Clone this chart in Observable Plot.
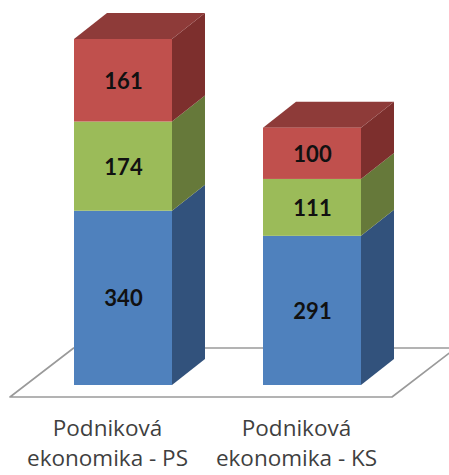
<!DOCTYPE html>
<html>
<head>
<meta charset="utf-8">
<script src="https://cdn.jsdelivr.net/npm/d3@7"></script>
<script src="https://cdn.jsdelivr.net/npm/@observablehq/plot@0.6"></script>
<style>
  html, body { margin: 0; padding: 0; background: #fff; overflow: hidden; }
  svg { overflow: hidden; }
</style>
</head>
<body>
<div id="chart"></div>
<script>
// ---- data ----
const categories = ["Podniková ekonomika - PS", "Podniková ekonomika - KS"];
const seriesNames = ["Série 1", "Série 2", "Série 3"];
const series1 = [340, 291];
const series2 = [174, 111];
const series3 = [161, 100];

// ---- styles ----
const frontColors = ["#4F81BD", "#9BBB59", "#C0504D"];
const sideColors  = ["#32527C", "#66793A", "#7D2F2D"];
const topColors   = ["#3E6796", "#7C9647", "#8E3B39"];
const DX = 33, DY = 26;

const allSeries = [series1, series2, series3];
const rows = [];
categories.forEach((c, ci) => {
  seriesNames.forEach((s, si) => {
    rows.push({category: c, series: s, si, value: allSeries[si][ci]});
  });
});

const stackOpts = {x: "category", y: "value", z: "series", order: null};

// floor (platform) drawn from scales
const floorMark = Plot.barY(rows, Plot.stackY({
  ...stackOpts,
  render: (index, scales, values, dimensions) => {
    const y0 = scales.y(0);
    const [r0, r1] = scales.x.range();
    const front = y0 + 12, back = y0 - 37;
    const slant = 1.3;
    const x0 = r0 - 63, x1 = r1 + 31;
    const off = (front - back) * slant;
    const pts = [[x0, front], [x1, front], [x1 + off, back], [x0 + off, back]];
    const g = d3.create("svg:g");
    g.append("path")
      .attr("d", "M" + pts.map(p => p.join(",")).join("L") + "Z")
      .attr("fill", "#fff")
      .attr("stroke", "#9a9a9a")
      .attr("stroke-width", 1.6)
      .attr("stroke-linejoin", "round");
    return g.node();
  }
}));

// side and top faces
const depthMark = Plot.barY(rows, Plot.stackY({
  ...stackOpts,
  render: (index, scales, values) => {
    const bw = scales.x.bandwidth();
    const g = d3.create("svg:g");
    const topByCat = new Map();
    for (const i of index) {
      const d = rows[i];
      const xl = values.x[i];
      const xr = xl + bw;
      const yt = Math.min(values.y1[i], values.y2[i]);
      const yb = Math.max(values.y1[i], values.y2[i]);
      g.append("path")
        .attr("d", `M${xr},${yb}L${xr},${yt}L${xr + DX},${yt - DY}L${xr + DX},${yb - DY}Z`)
        .attr("fill", sideColors[d.si]);
      const prev = topByCat.get(d.category);
      if (!prev || yt < prev.yt) topByCat.set(d.category, {xl, xr, yt, si: d.si});
    }
    for (const t of topByCat.values()) {
      g.append("path")
        .attr("d", `M${t.xl},${t.yt}L${t.xl + DX},${t.yt - DY}L${t.xr + DX},${t.yt - DY}L${t.xr},${t.yt}Z`)
        .attr("fill", topColors[t.si]);
    }
    return g.node();
  }
}));

const chart = Plot.plot({
  width: 449,
  height: 475,
  marginTop: 39,
  marginBottom: 90,
  marginLeft: 73,
  marginRight: 88,
  style: {fontFamily: "'Open Sans', sans-serif", background: "#fff"},
  x: {domain: categories, paddingInner: 0.484, paddingOuter: 0, label: null},
  y: {axis: null},
  color: {domain: seriesNames, range: frontColors},
  marks: [
    floorMark,
    depthMark,
    Plot.barY(rows, Plot.stackY({...stackOpts, fill: "series"})),
    Plot.text(rows, Plot.stackY({
      ...stackOpts,
      text: "value",
      fill: "#111",
      fontSize: 22,
      fontWeight: "bold",
      fontFamily: "Lato, sans-serif",
      dy: 1
    })),
    Plot.axisX({
      tickSize: 0,
      tickPadding: 30,
      fontSize: 22.5,
      lineHeight: 1.3,
      dx: -16,
      color: "#3f3f3f",
      label: null,
      tickFormat: d => d.replace(" ", "\n")
    })
  ]
});

document.getElementById("chart").appendChild(chart);
</script>
</body>
</html>
